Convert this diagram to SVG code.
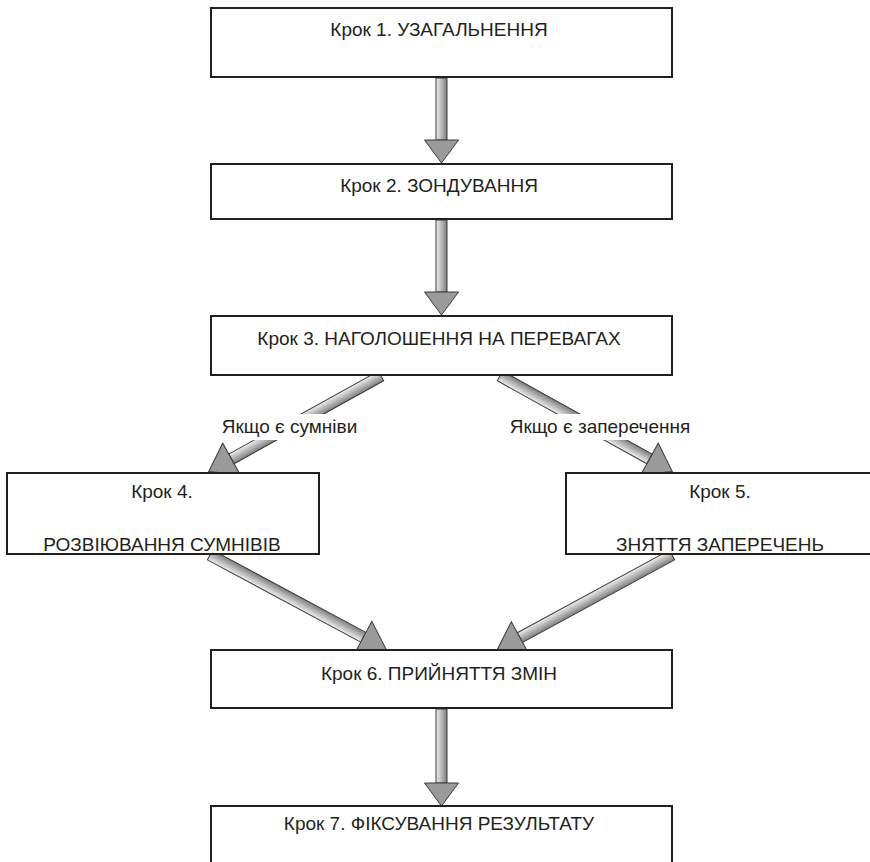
<svg xmlns="http://www.w3.org/2000/svg" width="870" height="862" viewBox="0 0 870 862">
<style>
.box{fill:#fff;stroke:#231f20;stroke-width:2}
.t{font-family:"Liberation Sans",Arial,sans-serif;font-size:19px;fill:#231f20;text-anchor:middle}
.shaft{fill:url(#sg);stroke:#3a3a3a;stroke-width:1}
.head{fill:#9a9a9a;stroke:#3a3a3a;stroke-width:1}
.lbg{fill:#fff}
</style>
<defs>
<linearGradient id="sg" x1="0" y1="0" x2="0" y2="1">
<stop offset="0" stop-color="#7d7d7d"/>
<stop offset="1" stop-color="#f0f0f0"/>
</linearGradient>
</defs>
<rect width="870" height="862" fill="#fff"/>
<g id="connectors">
<g transform="translate(441.5,78) rotate(90)"><rect class="shaft" x="0" y="-5.5" width="62" height="11"/><polygon class="head" points="62,-17 85,0 62,17"/></g>
<g transform="translate(441.5,220) rotate(90)"><rect class="shaft" x="0" y="-5.5" width="72" height="11"/><polygon class="head" points="72,-17 95,0 72,17"/></g>
<g transform="translate(441.5,709) rotate(90)"><rect class="shaft" x="0" y="-5.5" width="74" height="11"/><polygon class="head" points="74,-17 97,0 74,17"/></g>
<g transform="translate(381,376) rotate(151)"><rect class="shaft" x="0" y="-5.5" width="171" height="11"/><polygon class="head" points="171,-18 197,0 171,18"/></g>
<g transform="translate(500,376) rotate(29)"><rect class="shaft" x="0" y="-5.5" width="171" height="11"/><polygon class="head" points="171,-18 197,0 171,18"/></g>
<g transform="translate(210,555) rotate(28.2)"><rect class="shaft" x="0" y="-5.5" width="174" height="11"/><polygon class="head" points="174,-18 200,0 174,18"/></g>
<g transform="translate(672,555) rotate(151.5)"><rect class="shaft" x="0" y="-5.5" width="173" height="11"/><polygon class="head" points="173,-18 199,0 173,18"/></g>
<rect class="lbg" x="212" y="414" width="156" height="26"/>
<text class="t" x="289.5" y="433">Якщо є сумніви</text>
<rect class="lbg" x="500" y="414" width="200" height="26"/>
<text class="t" x="600" y="433">Якщо є заперечення</text>
</g>
<g id="step1"><rect class="box" x="211" y="8" width="461" height="69"/><text class="t" x="439" y="36">Крок 1. УЗАГАЛЬНЕННЯ</text></g>
<g id="step2"><rect class="box" x="211" y="164" width="461" height="55"/><text class="t" x="439" y="192">Крок 2. ЗОНДУВАННЯ</text></g>
<g id="step3"><rect class="box" x="211" y="316" width="461" height="59"/><text class="t" x="439" y="345">Крок 3. НАГОЛОШЕННЯ НА ПЕРЕВАГАХ</text></g>
<g id="step4"><rect class="box" x="7" y="473" width="312" height="81"/><text class="t" x="162" y="498">Крок 4.</text><text class="t" x="162" y="551">РОЗВІЮВАННЯ СУМНІВІВ</text></g>
<g id="step5"><rect class="box" x="566" y="473" width="310" height="81"/><text class="t" x="720" y="498">Крок 5.</text><text class="t" x="720" y="551">ЗНЯТТЯ ЗАПЕРЕЧЕНЬ</text></g>
<g id="step6"><rect class="box" x="211" y="650" width="461" height="58"/><text class="t" x="439" y="680">Крок 6. ПРИЙНЯТТЯ ЗМІН</text></g>
<g id="step7"><path class="box" d="M211,863 V806 H672 V863"/><text class="t" x="439" y="830">Крок 7. ФІКСУВАННЯ РЕЗУЛЬТАТУ</text></g>
</svg>
